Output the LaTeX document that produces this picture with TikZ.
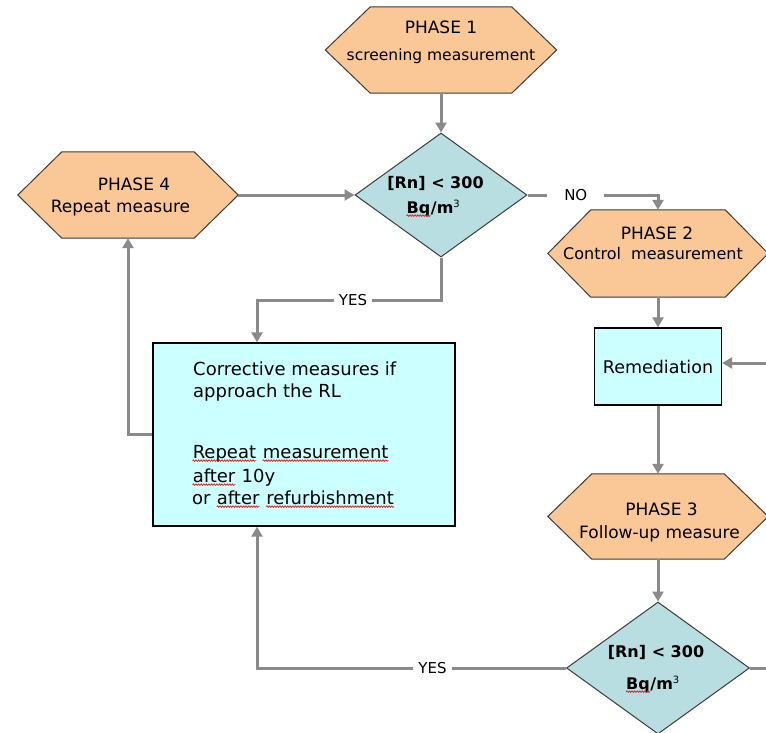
\documentclass[tikz,border=0pt]{standalone}
\usepackage{fontspec}
\setmainfont{DejaVu Sans}
\usetikzlibrary{shapes.geometric,arrows.meta,calc,decorations.pathmorphing}
\definecolor{hexfill}{HTML}{FAC796}
\definecolor{diafill}{HTML}{B8DEE2}
\definecolor{boxfill}{HTML}{CCFFFF}
\definecolor{lineg}{HTML}{8A8A8A}
\definecolor{edgec}{HTML}{3C3C3C}
\definecolor{sqred}{HTML}{E01818}
\newcommand\redsq[1]{\tikz[baseline=(rq.base)]{\node[inner sep=0pt, anchor=base] (rq) {#1};
  \draw[sqred, line width=0.7pt, decorate, decoration={snake, amplitude=0.8pt, segment length=2.6pt}]
    ([yshift=-2.6pt]rq.base west) -- ([yshift=-2.6pt]rq.base east);}}
\newcommand\drawhex[6]{%
  \node[hexbox, minimum width=#4pt, minimum height=#5pt] (#1) at (#2,#3) {};
  \draw[hexdraw] (#1.west) -- ([xshift=#6pt]#1.north west) -- ([xshift=-#6pt]#1.north east)
     -- (#1.east) -- ([xshift=-#6pt]#1.south east) -- ([xshift=#6pt]#1.south west) -- cycle;
}
\tikzset{
  hexbox/.style={rectangle, inner sep=0pt},
  hexdraw/.style={fill=hexfill, draw=edgec, line width=1pt},
  dia/.style={diamond, fill=diafill, draw=edgec, line width=1pt, inner sep=0pt},
  boxst/.style={rectangle, fill=boxfill, draw=black, line width=1.3pt, inner sep=0pt},
  conn/.style={draw=lineg, line width=3pt},
  arr/.style={conn, -{Triangle[length=10pt,width=11pt]}},
  lbl/.style={fill=white, inner ysep=1pt, inner xsep=5pt, font=\fontsize{15}{18}\selectfont},
  ttl/.style={anchor=base, inner sep=0pt, font=\fontsize{17}{20}\selectfont},
  sub/.style={anchor=base, inner sep=0pt, font=\fontsize{16}{19}\selectfont},
  dtx/.style={anchor=base, inner sep=0pt, font=\fontsize{16}{19}\selectfont\bfseries},
  btx/.style={anchor=base west, inner sep=0pt, font=\fontsize{18}{22}\selectfont},
}
\newcommand\supthree{\raisebox{6pt}{\fontsize{10}{12}\selectfont\mdseries 3}}
\begin{document}
\begin{tikzpicture}[x=1pt,y=-1pt]
\useasboundingbox (0,0) rectangle (766,732);
\clip (0,0) rectangle (766,732);

% hexagons
\drawhex{p1}{441}{50}{231}{86}{45}
\drawhex{p4}{128}{195}{220}{86}{44}
\drawhex{p2}{658}{253.5}{220}{87}{43}
\drawhex{p3}{658}{516.5}{220}{85}{44}

\node[ttl] (p1a) at (441,33) {PHASE 1};
\node[sub, font=\fontsize{15.5}{19}\selectfont] (p1b) at (441,60) {screening measurement};
\node[ttl] (p4a) at (134,190) {PHASE 4};
\node[ttl] (p4b) at (120.5,212) {Repeat measure};
\node[ttl] (p2a) at (657,239) {PHASE 2};
\node[sub] (p2b) at (653,259) {Control\ \ measurement};
\node[ttl] (p3a) at (661.5,515) {PHASE 3};
\node[ttl] (p3b) at (659.5,538) {Follow-up measure};

% diamonds
\node[dia, minimum width=172pt, minimum height=124pt] (d1) at (441,195) {};
\node[dtx] (d1a) at (435.5,188) {[Rn] < 300};
\node[dtx] (d1b) at (433,213) {\redsq{Bq}/m\supthree};
\node[dia, minimum width=183pt, minimum height=132pt] (d2) at (658,668) {};
\node[dtx] (d2a) at (656,657) {[Rn] < 300};
\node[dtx] (d2b) at (652.5,689) {\redsq{Bq}/m\supthree};

% boxes
\node[boxst, minimum width=302pt, minimum height=183pt] (box) at (304,434.5) {};
\node[btx] (bt1) at (193,375) {Corrective measures if};
\node[btx] (bt2) at (193,397) {approach the RL};
\node[btx] (bt3) at (192,458) {\redsq{Repeat} \redsq{measurement}};
\node[btx] (bt4) at (192,482) {\redsq{after} 10y};
\node[btx] (bt5) at (192,504) {or \redsq{after} \redsq{refurbishment}};

\node[boxst, minimum width=127pt, minimum height=77pt, font=\fontsize{17.5}{20}\selectfont] (rem) at (658,366.5) {Remediation};

% free ends
\coordinate (redge1) at (766,363);
\coordinate (redge2) at (766,668);
\coordinate (yes1) at (257,300);
\coordinate (yes2) at (257,668);

% connectors
\draw[arr] (p1.south) -- (d1.north);
\draw[arr] (p4.east) -- (d1.west);
\draw[arr] (d1.east) -- node[lbl, pos=0.37, inner xsep=17pt]{NO} (d1.east -| p2.north) -- (p2.north);
\draw[arr] (d1.south) |- node[lbl, pos=0.739]{YES} (yes1) -- (yes1 |- box.north);
\draw[arr] (box.west) -| (p4.south);
\draw[arr] (p2.south) -- (rem.north);
\draw[arr] (redge1) -- (rem.east |- redge1);
\draw[arr] (rem.south) -- (p3.north);
\draw[arr] (p3.south) -- (d2.north);
\draw[conn] (d2.east) -- (redge2);
\draw[arr] (d2.west) -- node[lbl, pos=0.432]{YES} (yes2) -- (yes2 |- box.south);
\end{tikzpicture}
\end{document}
